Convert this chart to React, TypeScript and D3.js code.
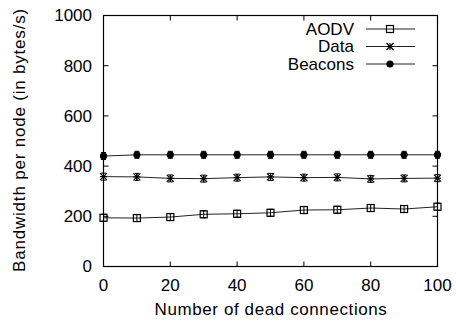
import React from "react";
import * as d3 from "d3";

const connections = [0, 10, 20, 30, 40, 50, 60, 70, 80, 90, 100];
const aodv = [194, 193, 197, 208, 210, 214, 225, 226, 233, 229, 238];
const dataTraffic = [358, 357, 351, 350, 354, 357, 354, 355, 349, 351, 352];
const beacons = [440, 445, 445, 445, 445, 445, 445, 445, 445, 445, 445];
const xTicks = [0, 20, 40, 60, 80, 100];
const yTicks = [0, 200, 400, 600, 800, 1000];
const seriesNames = ["AODV", "Data", "Beacons"];

const W = 456;
const H = 321;
const M = { left: 103.5, right: 437.5, top: 15.5, bottom: 266.5 };
const FONT = "'Liberation Sans', Arial, Helvetica, sans-serif";

type Kind = "square" | "star" | "dot";

function Marker({ x, y, kind }: { x: number; y: number; kind: Kind }) {
  if (kind === "square") {
    return <rect x={x - 3.5} y={y - 3.5} width={7} height={7} fill="none" stroke="#000" strokeWidth={1.2} />;
  }
  if (kind === "star") {
    const s = 3.5;
    return (
      <g stroke="#000" strokeWidth={1.2}>
        <line x1={x - s} x2={x + s} y1={y} y2={y} />
        <line x1={x} x2={x} y1={y - s} y2={y + s} />
        <line x1={x - s} x2={x + s} y1={y - s} y2={y + s} />
        <line x1={x - s} x2={x + s} y1={y + s} y2={y - s} />
      </g>
    );
  }
  return <circle cx={x} cy={y} r={3.6} fill="#000" />;
}

function ErrBar({ x, y }: { x: number; y: number }) {
  const h = 3.5;
  const c = 2.5;
  return (
    <g stroke="#000" strokeWidth={1}>
      <line x1={x} x2={x} y1={y - h} y2={y + h} />
      <line x1={x - c} x2={x + c} y1={y - h} y2={y - h} />
      <line x1={x - c} x2={x + c} y1={y + h} y2={y + h} />
    </g>
  );
}

export default function App() {
  const x = d3.scaleLinear().domain([0, 100]).range([M.left, M.right]);
  const y = d3.scaleLinear().domain([0, 1000]).range([M.bottom, M.top]);
  const line = d3
    .line<number>()
    .x((_, i) => x(connections[i]))
    .y((v) => y(v));

  const series: { name: string; values: number[]; kind: Kind }[] = [
    { name: seriesNames[0], values: aodv, kind: "square" },
    { name: seriesNames[1], values: dataTraffic, kind: "star" },
    { name: seriesNames[2], values: beacons, kind: "dot" },
  ];

  const tl = 5;
  const legendY = [29, 46.5, 64];

  return (
    <svg width={W} height={H} style={{ position: "absolute", left: 0, top: 0, background: "#fff" }} fontFamily={FONT}>
      <rect width={W} height={H} fill="#fff" />
      {/* ticks, mirrored on all sides */}
      <g stroke="#000" strokeWidth={1}>
        {yTicks.map((t) => (
          <g key={"y" + t}>
            <line x1={M.left} x2={M.left + tl} y1={y(t)} y2={y(t)} />
            <line x1={M.right} x2={M.right - tl} y1={y(t)} y2={y(t)} />
          </g>
        ))}
        {xTicks.map((t) => (
          <g key={"x" + t}>
            <line x1={x(t)} x2={x(t)} y1={M.bottom} y2={M.bottom - tl} />
            <line x1={x(t)} x2={x(t)} y1={M.top} y2={M.top + tl} />
          </g>
        ))}
      </g>
      <rect x={M.left} y={M.top} width={M.right - M.left} height={M.bottom - M.top} fill="none" stroke="#000" strokeWidth={1.2} />
      {yTicks.map((t) => (
        <text key={"yl" + t} x={92} y={y(t)} dy="0.35em" textAnchor="end" fontSize={17} fill="#000">
          {t}
        </text>
      ))}
      {xTicks.map((t) => (
        <text key={"xl" + t} x={x(t)} y={291} textAnchor="middle" fontSize={17} fill="#000">
          {t}
        </text>
      ))}
      <text x={(M.left + M.right) / 2 + 0.5} y={315} textAnchor="middle" fontSize={17} letterSpacing={0.6} fill="#000">
        Number of dead connections
      </text>
      <text
        transform={`translate(25, ${(M.top + M.bottom) / 2 - 1}) rotate(-90)`}
        textAnchor="middle"
        fontSize={17}
        letterSpacing={0.8}
        fill="#000"
      >
        Bandwidth per node (in bytes/s)
      </text>
      {series.map((s) => (
        <g key={s.name}>
          <path d={line(s.values) || ""} fill="none" stroke="#222" strokeWidth={1} />
          {s.values.map((v, i) => (
            <g key={i}>
              <ErrBar x={x(connections[i])} y={y(v)} />
              <Marker x={x(connections[i])} y={y(v)} kind={s.kind} />
            </g>
          ))}
        </g>
      ))}
      {series.map((s, i) => (
        <g key={"lg" + s.name}>
          <text x={354} y={legendY[i]} dy="0.35em" textAnchor="end" fontSize={17} fill="#000">
            {s.name}
          </text>
          <line x1={366} x2={415} y1={legendY[i]} y2={legendY[i]} stroke="#222" strokeWidth={1} />
          <Marker x={390} y={legendY[i]} kind={s.kind} />
        </g>
      ))}
    </svg>
  );
}
